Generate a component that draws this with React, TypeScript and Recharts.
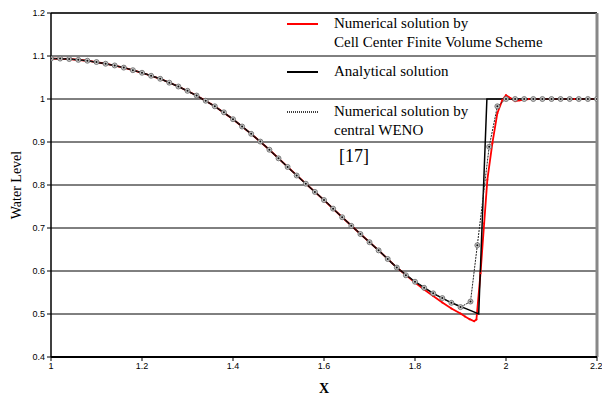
import React from 'react';
import {
  LineChart,
  Line,
  XAxis,
  YAxis,
  CartesianGrid,
  ReferenceLine,
  Label
} from 'recharts';

// analytical solution
const anaX = [1.0, 1.04, 1.08, 1.12, 1.16, 1.2, 1.24, 1.28, 1.32, 1.36, 1.4, 1.44, 1.48, 1.52, 1.56, 1.6, 1.64, 1.68, 1.72, 1.76, 1.8, 1.84, 1.88, 1.92, 1.94, 1.958, 2.0, 2.1, 2.2];
const anaY = [1.094, 1.093, 1.089, 1.082, 1.073, 1.061, 1.047, 1.029, 1.008, 0.983, 0.953, 0.919, 0.882, 0.842, 0.803, 0.765, 0.725, 0.686, 0.648, 0.608, 0.575, 0.548, 0.526, 0.509, 0.5, 1.0, 1.0, 1.0, 1.0];

// cell center finite volume scheme
const ccfvX = [1.0, 1.04, 1.08, 1.12, 1.16, 1.2, 1.24, 1.28, 1.32, 1.36, 1.4, 1.44, 1.48, 1.52, 1.56, 1.6, 1.64, 1.68, 1.72, 1.76, 1.8, 1.82, 1.84, 1.86, 1.88, 1.9, 1.91, 1.92, 1.93, 1.935, 1.944, 1.952, 1.959, 1.97, 1.981, 1.992, 2.0, 2.01, 2.02, 2.03, 2.05, 2.1, 2.15, 2.2];
const ccfvY = [1.094, 1.093, 1.089, 1.082, 1.073, 1.061, 1.047, 1.029, 1.008, 0.983, 0.953, 0.919, 0.882, 0.842, 0.803, 0.765, 0.725, 0.686, 0.648, 0.608, 0.573, 0.557, 0.542, 0.527, 0.513, 0.501, 0.494, 0.488, 0.483, 0.487, 0.595, 0.711, 0.812, 0.897, 0.967, 0.998, 1.009, 1.002, 0.995, 0.997, 1.0, 1.0, 1.0, 1.0];

// central WENO
const wenoX = [1.0, 1.02, 1.04, 1.06, 1.08, 1.1, 1.12, 1.14, 1.16, 1.18, 1.2, 1.22, 1.24, 1.26, 1.28, 1.3, 1.32, 1.34, 1.36, 1.38, 1.4, 1.42, 1.44, 1.46, 1.48, 1.5, 1.52, 1.54, 1.56, 1.58, 1.6, 1.62, 1.64, 1.66, 1.68, 1.7, 1.72, 1.74, 1.76, 1.78, 1.8, 1.82, 1.84, 1.86, 1.88, 1.9, 1.922, 1.937, 1.963, 1.981, 2.0, 2.02, 2.04, 2.06, 2.08, 2.1, 2.12, 2.14, 2.16, 2.18, 2.2];
const wenoY = [1.094, 1.094, 1.093, 1.091, 1.089, 1.086, 1.082, 1.078, 1.073, 1.067, 1.061, 1.054, 1.047, 1.038, 1.029, 1.019, 1.008, 0.996, 0.983, 0.969, 0.953, 0.936, 0.919, 0.901, 0.882, 0.862, 0.842, 0.822, 0.803, 0.784, 0.765, 0.745, 0.725, 0.705, 0.686, 0.667, 0.648, 0.628, 0.608, 0.59, 0.575, 0.561, 0.548, 0.537, 0.526, 0.516, 0.529, 0.66, 0.889, 0.983, 1.0, 1.0, 1.0, 1.0, 1.0, 1.0, 1.0, 1.0, 1.0, 1.0, 1.0];

const xTicks = [1, 1.2, 1.4, 1.6, 1.8, 2, 2.2];
const yTicks = [0.4, 0.5, 0.6, 0.7, 0.8, 0.9, 1, 1.1, 1.2];

const legendItems = [
  { lines: ['Numerical solution by', 'Cell Center Finite Volume Scheme'], color: '#ff0000', dash: undefined, top: 14 },
  { lines: ['Analytical solution'], color: '#000000', dash: undefined, top: 62 },
  { lines: ['Numerical solution by', 'central WENO'], color: '#000000', dash: '1 1', top: 102 }
];

const toRows = (xs: number[], ys: number[]) => xs.map((x, i) => ({ x, y: ys[i] }));

const WenoDot = (props: any) => {
  const { cx, cy, index } = props;
  if (cx == null || cy == null) return <g key={index} />;
  return (
    <g key={index}>
      <circle cx={cx} cy={cy} r={2.5} fill="#c8c8c8" stroke="#666" strokeWidth={0.8} />
      <circle cx={cx} cy={cy} r={1} fill="#111" />
    </g>
  );
};

const tickStyle = { fontFamily: 'Liberation Sans, Arial, sans-serif', fontSize: 9, fill: '#000' };
const serif = '"Liberation Serif", "Times New Roman", serif';

export default function App() {
  return (
    <div style={{ position: 'absolute', left: 0, top: 0, width: 602, height: 398, background: '#fff' }}>
      <LineChart width={602} height={398} margin={{ top: 13, right: 5, bottom: 0, left: 0 }}>
        <CartesianGrid horizontal vertical={false} stroke="#000" strokeWidth={1} />
        <XAxis
          type="number"
          dataKey="x"
          domain={[1, 2.2]}
          ticks={xTicks}
          tickFormatter={(v: number) => String(Math.round(v * 10) / 10)}
          height={41}
          tick={tickStyle}
          tickSize={4}
          stroke="#000"
          axisLine={{ stroke: '#000', strokeWidth: 2 }}
          allowDataOverflow
        >
          <Label value="X" position="insideBottom" offset={5} style={{ fontFamily: serif, fontWeight: 'bold', fontSize: 14, fill: '#000' }} />
        </XAxis>
        <YAxis
          type="number"
          domain={[0.4, 1.2]}
          ticks={yTicks}
          tickFormatter={(v: number) => String(Math.round(v * 10) / 10)}
          width={51}
          tick={tickStyle}
          tickSize={4}
          stroke="#000"
          axisLine={{ stroke: '#000', strokeWidth: 1.5 }}
        >
          <Label value="Water Level" angle={-90} position="insideLeft" offset={16} style={{ fontFamily: serif, fontSize: 14, fill: '#000', textAnchor: 'middle' }} />
        </YAxis>
        <ReferenceLine y={1.2} stroke="#333" strokeWidth={2} />
        <ReferenceLine x={2.2} stroke="#888" strokeWidth={3} />
        <Line
          data={toRows(ccfvX, ccfvY)}
          dataKey="y"
          type="linear"
          stroke="#ff0000"
          strokeWidth={1.8}
          dot={{ r: 1, fill: '#ff0000', stroke: 'none' }}
          isAnimationActive={false}
        />
        <Line
          data={toRows(anaX, anaY)}
          dataKey="y"
          type="linear"
          stroke="#000"
          strokeWidth={1.5}
          dot={false}
          isAnimationActive={false}
        />
        <Line
          data={toRows(wenoX, wenoY)}
          dataKey="y"
          type="linear"
          stroke="#222"
          strokeWidth={1}
          strokeDasharray="2 1"
          dot={<WenoDot />}
          isAnimationActive={false}
        />
      </LineChart>
      {legendItems.map((item, i) => (
        <div key={i} style={{ position: 'absolute', left: 287, top: item.top, fontFamily: serif, fontSize: 15, lineHeight: '19px', color: '#000', display: 'flex' }}>
          <svg width={32} height={19} style={{ marginRight: 15 }}>
            <line x1={0} y1={10} x2={31} y2={10} stroke={item.color} strokeWidth={item.dash ? 1.5 : 2} strokeDasharray={item.dash} />
          </svg>
          <div>
            {item.lines.map((l, j) => (
              <div key={j} style={{ whiteSpace: 'nowrap' }}>{l}</div>
            ))}
          </div>
        </div>
      ))}
      <div style={{ position: 'absolute', left: 339, top: 146, fontFamily: serif, fontSize: 18, color: '#000' }}>[17]</div>
    </div>
  );
}
